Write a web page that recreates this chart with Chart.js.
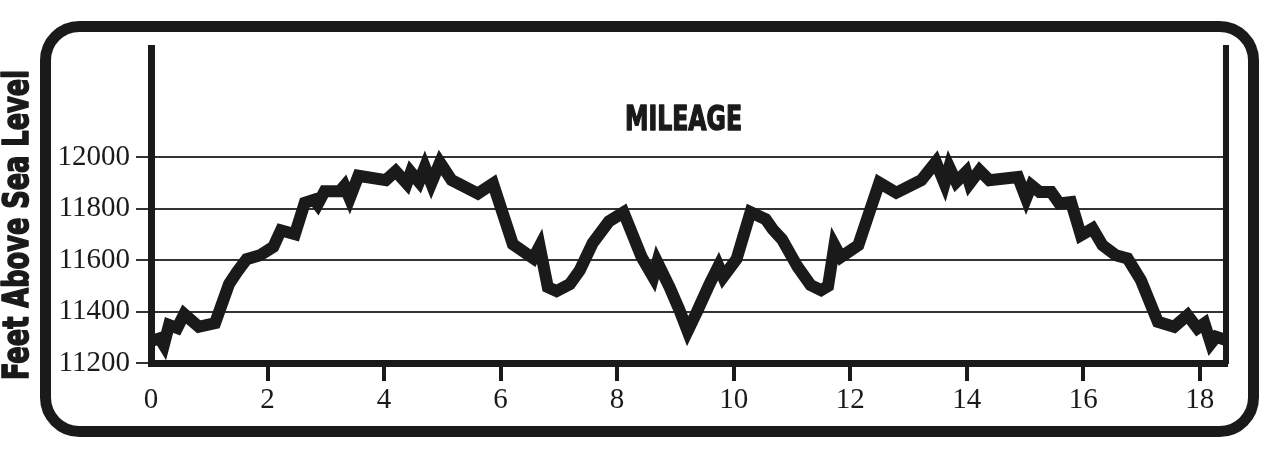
<!DOCTYPE html>
<html>
<head>
<meta charset="utf-8">
<script src="https://cdn.jsdelivr.net/npm/chart.js@4"></script>
<style>
  html, body { margin: 0; padding: 0; background: #fff; }
  #wrap { width: 1280px; height: 458px; position: relative; }
</style>
</head>
<body>
<div id="wrap"><canvas id="profile"></canvas></div>
<script>
// trail distance (miles) and elevation (feet)
const miles = [
  0, 0.15, 0.22, 0.31, 0.45, 0.57, 0.82, 1.10, 1.34, 1.48,
  1.64, 1.87, 2.10, 2.23, 2.47, 2.64, 2.80, 2.86, 2.98, 3.24,
  3.32, 3.41, 3.56, 4.03, 4.20, 4.39, 4.46, 4.60, 4.70, 4.81,
  4.96, 5.16, 5.61, 5.87, 6.21, 6.56, 6.67, 6.81, 6.96, 7.19,
  7.36, 7.58, 7.86, 8.11, 8.42, 8.62, 8.69, 8.90, 9.07, 9.21,
  9.37, 9.59, 9.74, 9.82, 10.05, 10.29, 10.55, 10.67, 10.83, 11.10,
  11.32, 11.50, 11.62, 11.73, 11.84, 12.14, 12.33, 12.50, 12.79, 13.22,
  13.47, 13.62, 13.70, 13.82, 13.99, 14.05, 14.22, 14.39, 14.88, 15.02,
  15.11, 15.25, 15.45, 15.59, 15.79, 15.96, 16.16, 16.33, 16.56, 16.76,
  16.99, 17.28, 17.56, 17.79, 17.96, 18.08, 18.19, 18.28, 18.45
];
const elevation = [
  11285, 11296, 11270, 11348, 11336, 11390, 11341, 11355, 11507, 11555,
  11604, 11619, 11652, 11716, 11701, 11823, 11835, 11817, 11868, 11868,
  11889, 11840, 11928, 11911, 11946, 11898, 11942, 11904, 11962, 11898,
  11980, 11911, 11859, 11898, 11662, 11607, 11654, 11495, 11480, 11507,
  11561, 11666, 11751, 11786, 11612, 11534, 11592, 11495, 11406, 11324,
  11399, 11509, 11577, 11534, 11604, 11787, 11759, 11720, 11681, 11573,
  11503, 11483, 11499, 11658, 11612, 11658, 11787, 11901, 11862, 11911,
  11982, 11898, 11962, 11904, 11943, 11898, 11949, 11911, 11923, 11840,
  11891, 11865, 11865, 11820, 11826, 11697, 11723, 11658, 11619, 11607,
  11522, 11360, 11341, 11386, 11335, 11354, 11276, 11302, 11289
];
const yTicks = [11200, 11400, 11600, 11800, 12000];
const xTicks = [0, 2, 4, 6, 8, 10, 12, 14, 16, 18];
const yTitle = 'Feet Above Sea Level';
const chartTitle = 'MILEAGE';
const yMin = 11200, yMax = 12425;
const xMin = 0, xMax = 18.45;

const ink = '#1a1a1a';
const clear = 'rgba(0,0,0,0)';

// frame, rotated axis label and the in-plot heading
const decor = {
  id: 'decor',
  beforeDraw(chart) {
    const ctx = chart.ctx;
    ctx.save();
    ctx.strokeStyle = ink;
    ctx.lineWidth = 11;
    ctx.beginPath();
    ctx.roundRect(45.5, 26.5, 1208, 405, 34);
    ctx.stroke();
    ctx.restore();
  },
  afterDraw(chart) {
    const ctx = chart.ctx;
    ctx.save();
    ctx.fillStyle = ink;
    ctx.strokeStyle = ink;
    ctx.lineJoin = 'round';
    ctx.textBaseline = 'alphabetic';
    ctx.textAlign = 'left';
    const heavy = '"Liberation Sans Narrow", "DejaVu Sans Condensed", "Liberation Sans", sans-serif';

    // y label, squeezed to its printed length
    ctx.font = 'bold 36px ' + heavy;
    let w = ctx.measureText(yTitle).width;
    ctx.save();
    ctx.translate(28, 380);
    ctx.rotate(-Math.PI / 2);
    ctx.scale(310 / w, 1);
    ctx.lineWidth = 1.6;
    ctx.fillText(yTitle, 0, 0);
    ctx.strokeText(yTitle, 0, 0);
    ctx.restore();

    ctx.font = 'bold 34px ' + heavy;
    w = ctx.measureText(chartTitle).width;
    ctx.save();
    ctx.translate(625, 130);
    ctx.scale(117 / w, 1);
    ctx.lineWidth = 1.4;
    ctx.fillText(chartTitle, 0, 0);
    ctx.strokeText(chartTitle, 0, 0);
    ctx.restore();
    ctx.restore();
  }
};

const tickFont = { family: '"Liberation Serif", "DejaVu Serif", serif', size: 29 };

new Chart(document.getElementById('profile'), {
  type: 'line',
  data: {
    datasets: [{
      label: 'Elevation',
      data: miles.map((m, i) => ({ x: m, y: elevation[i] })),
      borderColor: ink,
      borderWidth: 12,
      borderJoinStyle: 'miter',
      borderCapStyle: 'butt',
      pointRadius: 0,
      tension: 0,
      fill: false
    }]
  },
  options: {
    responsive: true,
    maintainAspectRatio: false,
    animation: false,
    layout: { padding: { top: 48, left: 0, right: 0, bottom: 0 } },
    plugins: {
      legend: { display: false },
      title: { display: false },
      tooltip: { enabled: false }
    },
    scales: {
      x: {
        type: 'linear',
        min: xMin,
        max: xMax,
        afterFit(scale) { scale.height = 95; },
        afterBuildTicks(scale) { scale.ticks = xTicks.map(v => ({ value: v })); },
        ticks: {
          autoSkip: false,
          color: ink,
          font: tickFont,
          padding: 2,
          maxRotation: 0,
          callback: v => String(v)
        },
        grid: {
          drawOnChartArea: false,
          drawTicks: true,
          tickLength: 18,
          lineWidth: 4,
          color: c => (c.tick && c.tick.value === 0) ? clear : ink
        },
        border: { display: true, color: ink, width: 7 }
      },
      y: {
        type: 'linear',
        position: 'left',
        min: yMin,
        max: yMax,
        afterFit(scale) { scale.width = 151; },
        afterBuildTicks(scale) { scale.ticks = yTicks.map(v => ({ value: v })); },
        ticks: {
          autoSkip: false,
          color: ink,
          font: tickFont,
          padding: 6,
          callback: v => String(v)
        },
        grid: {
          color: '#333',
          lineWidth: 2,
          tickLength: 15
        },
        border: { display: true, color: ink, width: 7 }
      },
      y2: {
        type: 'linear',
        position: 'right',
        min: yMin,
        max: yMax,
        afterFit(scale) { scale.width = 54; },
        ticks: { display: false },
        grid: { drawOnChartArea: false, drawTicks: false },
        border: { display: true, color: ink, width: 6 }
      }
    }
  },
  plugins: [decor]
});
</script>
</body>
</html>
